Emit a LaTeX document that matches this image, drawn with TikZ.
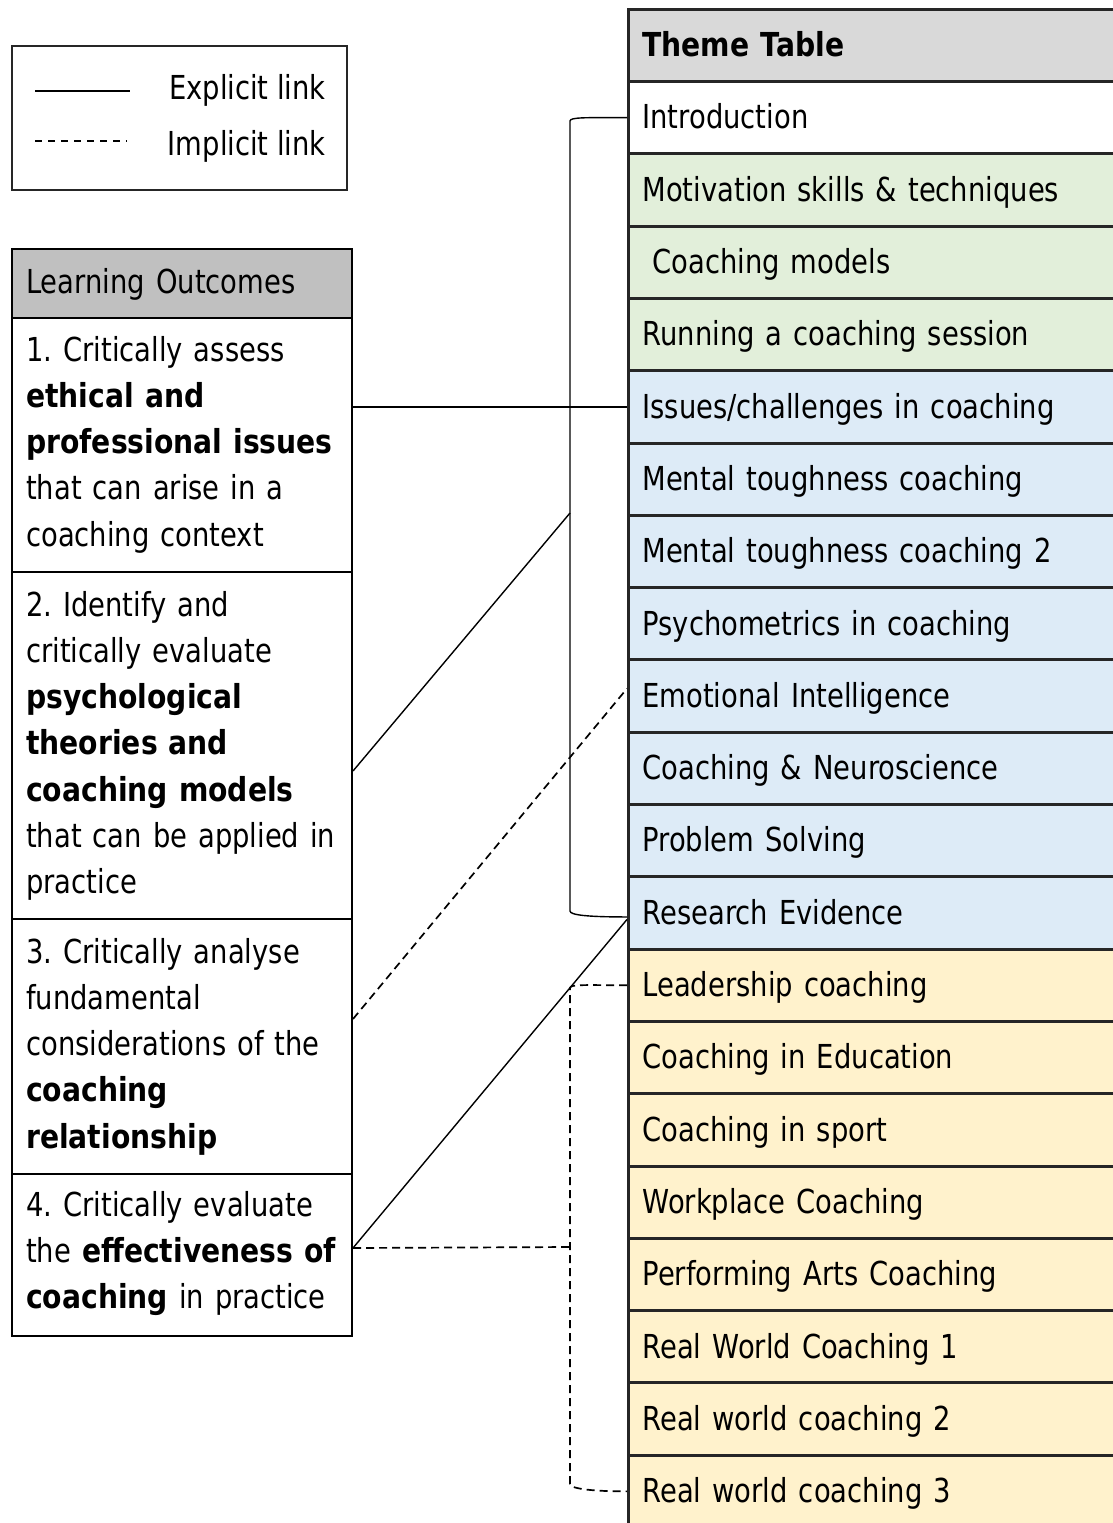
\documentclass[tikz,border=0pt]{standalone}
\usepackage{fontspec}
\setmainfont{DejaVu Sans}[FakeStretch=0.83, BoldFeatures={FakeStretch=0.855}]
\definecolor{gridc}{HTML}{262626}
\definecolor{thgray}{HTML}{D9D9D9}
\definecolor{logray}{HTML}{C0C0C0}
\definecolor{thgreen}{HTML}{E2EFDA}
\definecolor{thblue}{HTML}{DDEBF7}
\definecolor{thyellow}{HTML}{FFF2CC}
\newcommand\myfs{\fontsize{33}{46.3}\selectfont\frenchspacing}
\begin{document}
\begin{tikzpicture}[x=1pt,y=-1pt,
  trow/.style={rectangle, draw=gridc, line width=3pt, minimum width=503pt,
    minimum height=72.3pt, anchor=north west, inner xsep=14pt, inner ysep=0pt,
    text width=475pt, align=left, text height=30pt, text depth=7.4pt, font=\myfs},
  lobox/.style={rectangle, draw=black, line width=2pt, minimum width=340pt,
    anchor=north west, inner sep=0pt},
  lotext/.style={anchor=base west, inner sep=0pt, text width=400pt, align=left, font=\myfs},
  link/.style={draw=black, line width=1.4pt},
  ilink/.style={draw=black, line width=1.7pt, dash pattern=on 8pt off 5pt},
  legtext/.style={anchor=base east, inner sep=0pt, font=\myfs}
]
\useasboundingbox (0,0) rectangle (1113,1523);
\clip (0,0) rectangle (1113,1523);
\fill[white] (0,0) rectangle (1113,1523);

% Legend
\node[rectangle, draw=black!85, line width=1.5pt, minimum width=335pt, minimum height=144pt,
  anchor=north west, inner sep=0pt] (legend) at (11,45) {};
\node[legtext] (legexp) at (326,99) {Explicit link};
\node[legtext] (legimp) at (326,155) {Implicit link};
\draw[link] (35,91) -- (130,91);
\draw[ilink, line width=1.4pt, dash pattern=on 7pt off 6pt] (35,141) -- (127,141);

% Learning outcomes table
\node[lobox, fill=logray, minimum height=69pt] (lo0) at (11,248) {};
\node[lobox, minimum height=254pt] (lo1) at (11,317) {};
\node[lobox, minimum height=347pt] (lo2) at (11,571) {};
\node[lobox, minimum height=255pt] (lo3) at (11,918) {};
\node[lobox, minimum height=162pt] (lo4) at (11,1173) {};
\node[lotext] (lo0t) at (26,293) {Learning Outcomes};
\node[lotext] (lo1t) at (26,361) {1. Critically assess\\ \textbf{ethical and}\\ \textbf{professional issues}\\ that can arise in a\\ coaching context};
\node[lotext] (lo2t) at (26,616) {2. Identify and\\ critically evaluate\\ \textbf{psychological}\\ \textbf{theories and}\\ \textbf{coaching models}\\ that can be applied in\\ practice};
\node[lotext] (lo3t) at (26,963) {3. Critically analyse\\ fundamental\\ considerations of the\\ \textbf{coaching}\\ \textbf{relationship}};
\node[lotext] (lo4t) at (26,1216) {4. Critically evaluate\\ the \textbf{effectiveness of}\\ \textbf{coaching} in practice};

% Theme table
\node[trow, fill=thgray, minimum height=72pt, font=\myfs\bfseries] (t0) at (627,8) {Theme Table};
\foreach \txt/\col [count=\i] in {
  {Introduction}/white,
  {Motivation skills \& techniques}/thgreen,
  {\hspace*{10pt}Coaching models}/thgreen,
  {Running a coaching session}/thgreen,
  {Issues{/}challenges in coaching}/thblue,
  {Mental toughness coaching}/thblue,
  {Mental toughness coaching 2}/thblue,
  {Psychometrics in coaching}/thblue,
  {Emotional Intelligence}/thblue,
  {Coaching \& Neuroscience}/thblue,
  {Problem Solving}/thblue,
  {Research Evidence}/thblue,
  {Leadership coaching}/thyellow,
  {Coaching in Education}/thyellow,
  {Coaching in sport}/thyellow,
  {Workplace Coaching}/thyellow,
  {Performing Arts Coaching}/thyellow,
  {Real World Coaching 1}/thyellow,
  {Real world coaching 2}/thyellow,
  {Real world coaching 3}/thyellow}
  \node[trow, fill=\col] (t\i) at (627,{80+72.3*(\i-1)}) {\txt};

% Connectors
\coordinate (sjoin) at (570,513);
\coordinate (djoin) at (570,1247);
\draw[link] (lo1.east |- t5.west) -- (t5.west);
\draw[link] (t1.west) .. controls +(-40,0) and (570,117) .. (570,121)
  -- (570,911) .. controls (570,915) and +(-40,0) .. ([yshift=-4pt]t12.west);
\draw[link] ([yshift=-25.5pt]lo2.east) -- (sjoin);
\draw[ilink] ([yshift=27.5pt]lo3.east) -- ([yshift=7.5pt]t9.west);
\draw[link] ([yshift=7pt]lo4.east) -- ([yshift=-6.5pt]t12.west);
\draw[ilink] ([yshift=7pt]lo4.east) -- (djoin);
\draw[ilink] (t13.west) .. controls +(-40,0) and (570,984) .. (570,988)
  -- (570,1484) .. controls (570,1488) and +(-40,0) .. (t20.west);
\end{tikzpicture}
\end{document}
